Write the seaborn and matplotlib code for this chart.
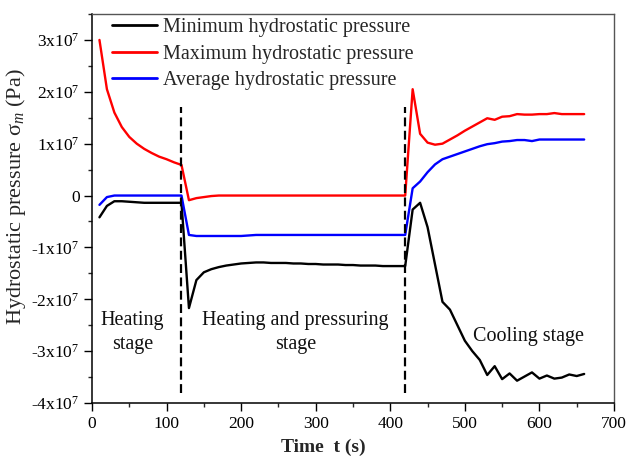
import matplotlib
matplotlib.use("Agg")
import matplotlib.pyplot as plt
import seaborn as sns
import pandas as pd
from matplotlib.ticker import MultipleLocator, FuncFormatter

# ---------------- data ----------------
time_s = [10, 20, 30, 40, 50, 60, 70, 80, 90, 100, 110, 120,
          130, 140, 150, 160, 170, 180, 190, 200, 210, 220, 230, 240, 250, 260,
          270, 280, 290, 300, 310, 320, 330, 340, 350, 360, 370, 380, 390, 400,
          410, 420,
          430, 440, 450, 460, 470, 480, 490, 500, 510, 520, 530, 540, 550, 560,
          570, 580, 590, 600, 610, 620, 630, 640, 650, 660]

# values in units of 1e7 Pa
min_p = [-0.42, -0.20, -0.11, -0.11, -0.12, -0.13, -0.14, -0.14, -0.14, -0.14, -0.14, -0.14,
         -2.17, -1.63, -1.48, -1.42, -1.38, -1.35, -1.33, -1.31, -1.30, -1.29, -1.29, -1.30,
         -1.30, -1.30, -1.31, -1.31, -1.32, -1.32, -1.33, -1.33, -1.33, -1.34, -1.34, -1.35,
         -1.35, -1.35, -1.36, -1.36, -1.36, -1.36,
         -0.27, -0.14, -0.61, -1.33, -2.05, -2.20, -2.50, -2.80, -3.00, -3.17, -3.46, -3.29,
         -3.54, -3.43, -3.57, -3.49, -3.41, -3.53, -3.47, -3.53, -3.51, -3.45, -3.48, -3.44]

max_p = [3.00, 2.05, 1.60, 1.32, 1.13, 1.00, 0.90, 0.82, 0.75, 0.70, 0.64, 0.59,
         -0.09, -0.05, -0.03, -0.01, 0.00, 0.00, 0.00, 0.00, 0.00, 0.00, 0.00, 0.00,
         0.00, 0.00, 0.00, 0.00, 0.00, 0.00, 0.00, 0.00, 0.00, 0.00, 0.00, 0.00,
         0.00, 0.00, 0.00, 0.00, 0.00, 0.00,
         2.05, 1.19, 1.02, 0.98, 1.00, 1.08, 1.16, 1.25, 1.33, 1.41, 1.49, 1.46,
         1.52, 1.53, 1.57, 1.56, 1.56, 1.57, 1.57, 1.59, 1.57, 1.57, 1.57, 1.57]

avg_p = [-0.18, -0.03, 0.00, 0.00, 0.00, 0.00, 0.00, 0.00, 0.00, 0.00, 0.00, 0.00,
         -0.76, -0.78, -0.78, -0.78, -0.78, -0.78, -0.78, -0.78, -0.77, -0.76, -0.76, -0.76,
         -0.76, -0.76, -0.76, -0.76, -0.76, -0.76, -0.76, -0.76, -0.76, -0.76, -0.76, -0.76,
         -0.76, -0.76, -0.76, -0.76, -0.76, -0.76,
         0.14, 0.27, 0.45, 0.60, 0.70, 0.75, 0.80, 0.85, 0.90, 0.95, 0.99, 1.01,
         1.04, 1.05, 1.07, 1.07, 1.05, 1.08, 1.08, 1.08, 1.08, 1.08, 1.08, 1.08]

series_names = ["Minimum hydrostatic pressure",
                "Maximum hydrostatic pressure",
                "Average hydrostatic pressure"]
series_colors = ["#000000", "#ff0000", "#0000ff"]

stage_bounds = [120, 420]
stage_labels = ["Heating\nstage", "Heating and pressuring\nstage", "Cooling stage"]
stage_label_x = [54, 273, 585]
stage_label_y = [-2.64e7, -2.64e7, -2.71e7]

x_ticks = [0, 100, 200, 300, 400, 500, 600, 700]
y_ticks = [-4e7, -3e7, -2e7, -1e7, 0, 1e7, 2e7, 3e7]

# ---------------- build table ----------------
rows = []
for name, vals in zip(series_names, [min_p, max_p, avg_p]):
    for t, v in zip(time_s, vals):
        rows.append({"t": t, "p": v * 1e7, "series": name})
df = pd.DataFrame(rows)

# ---------------- style ----------------
sns.set_theme(style="ticks")
plt.rcParams["font.family"] = ["Liberation Serif", "DejaVu Serif"]
plt.rcParams["mathtext.fontset"] = "custom"
plt.rcParams["mathtext.rm"] = "Liberation Serif"
plt.rcParams["mathtext.it"] = "Liberation Serif:italic"
plt.rcParams["mathtext.bf"] = "Liberation Serif:bold"

fig = plt.figure(figsize=(6.27, 4.57), dpi=100)
ax = fig.add_axes([92 / 627, 1 - 403 / 457, (614 - 92) / 627, (403 - 14) / 457])

sns.lineplot(data=df, x="t", y="p", hue="series", hue_order=series_names,
             palette=series_colors, linewidth=1.7, ax=ax, sort=False)

for xb in stage_bounds:
    ax.vlines(xb, -3.8e7, 1.7e7, colors="black", linewidth=1.6,
              linestyles=(0, (4, 2)))

for lbl, lx, ly in zip(stage_labels, stage_label_x, stage_label_y):
    ax.text(lx, ly, lbl, ha="center", va="center", fontsize=14.5,
            linespacing=1.35, color="#111111")

ax.set_xlim(0, 700)
ax.set_ylim(-4e7, 3.5e7)
ax.set_xticks(x_ticks)
ax.set_yticks(y_ticks)
ax.xaxis.set_minor_locator(MultipleLocator(50))
ax.yaxis.set_minor_locator(MultipleLocator(5e6))


def yfmt(v, pos):
    k = int(round(v / 1e7))
    if k == 0:
        return "0"
    return r"%dx10$^{7}$" % k


ax.yaxis.set_major_formatter(FuncFormatter(yfmt))
ax.tick_params(axis="both", which="major", direction="out", length=6,
               width=1, labelsize=12.5, colors="black", pad=3)
ax.tick_params(axis="both", which="minor", direction="out", length=3, width=1)

for side in ["left", "bottom"]:
    ax.spines[side].set_color("black")
    ax.spines[side].set_linewidth(1.1)
for side in ["top", "right"]:
    ax.spines[side].set_color("#555555")
    ax.spines[side].set_linewidth(1.0)
    ax.spines[side].set_visible(True)

ax.set_xlabel("Time  t (s)", fontsize=14, fontweight="bold")
ax.xaxis.set_label_coords(0.444, -0.092)
ax.set_ylabel(r"Hydrostatic pressure σ$_{m}$ (Pa)", fontsize=16)
ax.yaxis.set_label_coords(-0.122, 0.53)

leg = ax.legend(loc="upper left", bbox_to_anchor=(0.015, 1.02), frameon=False,
                fontsize=14.5, handlelength=2.25, handletextpad=0.3,
                labelspacing=0.36, borderaxespad=0.2)
for h in leg.get_lines():
    h.set_linewidth(2.0)

fig.savefig("out.png", dpi=100)
